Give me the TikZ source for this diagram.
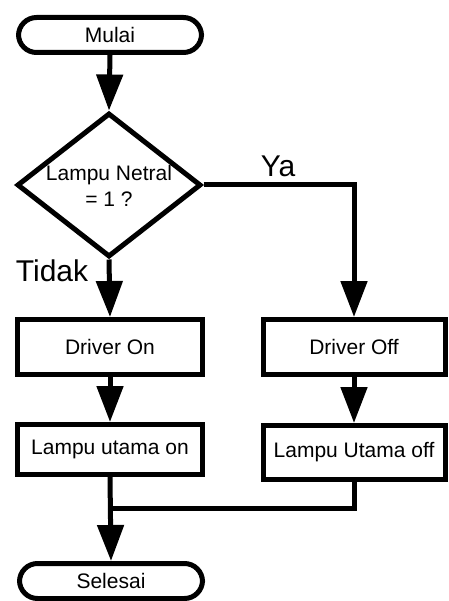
\documentclass[tikz,border=0pt]{standalone}
\usepackage{fontspec}
\setmainfont{Liberation Sans}
\usetikzlibrary{shapes.geometric,arrows.meta}
\begin{document}
\begin{tikzpicture}[x=1pt,y=-1pt, line width=5pt,
 term/.style={draw, rectangle, rounded corners=18pt, minimum width=183pt, minimum height=35pt, inner sep=0pt, font=\fontsize{21}{25}\selectfont},
 proc/.style={draw, rectangle, inner sep=0pt, font=\fontsize{21}{25}\selectfont},
 decbox/.style={draw, diamond, minimum width=184pt, minimum height=144pt, inner sep=0pt},
 dectext/.style={inner sep=0pt, align=center, font=\fontsize{21}{26}\selectfont},
 lbl/.style={font=\fontsize{30}{36}\selectfont, inner sep=0pt},
 arr/.style={-{Triangle[width=26pt,length=36pt]}},
]
\useasboundingbox (0,0) rectangle (448,601);
\node[term] (mulai) at (110,35) {Mulai};
\node[decbox] (dec) at (109,185) {};
\node[dectext] (dect) at (109,186) {Lampu Netral\\= 1 ?};
\node[proc, minimum width=185pt, minimum height=55pt] (don) at (110,347) {Driver On};
\node[proc, minimum width=182pt, minimum height=55pt] (doff) at (354,347) {Driver Off};
\node[proc, minimum width=185pt, minimum height=50pt] (lon) at (110,449.5) {Lampu utama on};
\node[proc, minimum width=182pt, minimum height=54pt] (loff) at (354,452.5) {Lampu Utama off};
\node[term] (sel) at (111,581) {Selesai};
\node[lbl] (ya) at (278,166) {Ya};
\node[lbl] (tidak) at (52,271) {Tidak};
\coordinate (m) at (110,508);

\draw[arr] (mulai.south) -- (dec.north);
\draw[arr] (dec.east) -| (doff.north);
\draw[arr] (dec.south) -- (don.north);
\draw[arr] (don.south) -- (lon.north);
\draw[arr] (doff.south) -- (loff.north);
\draw (loff.south) |- (m);
\draw[arr] (lon.south) -- (sel.north);
\end{tikzpicture}
\end{document}
